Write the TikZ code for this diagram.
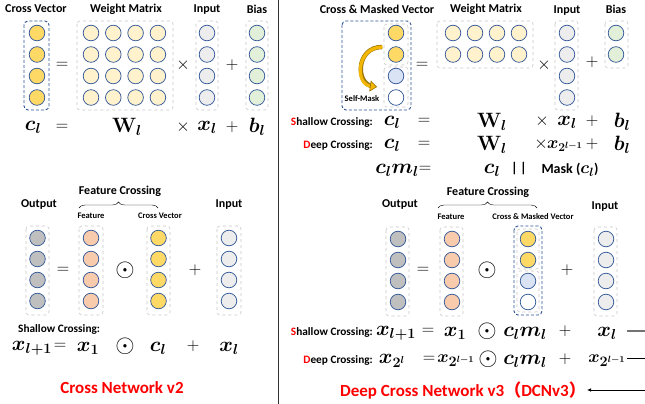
\documentclass[tikz,border=0pt]{standalone}
\usepackage{fontspec}
\setsansfont{Carlito}
\newfontfamily\cjk{Noto Sans CJK SC}
\usepackage{amsmath}
\usepackage{bm}
\usetikzlibrary{decorations.pathreplacing}
\usetikzlibrary{arrows.meta}

\definecolor{cellblue}{HTML}{2F5597}
\definecolor{crossyel}{HTML}{FFD966}
\definecolor{wyel}{HTML}{FFF2CC}
\definecolor{ingray}{HTML}{EDEDED}
\definecolor{biasgreen}{HTML}{E2F0D9}
\definecolor{outgray}{HTML}{BFBFBF}
\definecolor{featpeach}{HTML}{F8CBAD}
\definecolor{maskblue}{HTML}{DAE3F3}
\definecolor{boxgray}{HTML}{C9C9C9}
\definecolor{arrgold}{HTML}{F2B705}
\definecolor{golddark}{HTML}{9C7400}

\begin{document}
\begin{tikzpicture}[x=1pt,y=-1pt,
	cell/.style={draw=cellblue,line width=0.7pt},
	gbox/.style={draw=boxgray,dashed,line width=0.6pt,rounded corners=3pt},
	bbox/.style={draw=cellblue,densely dashed,line width=0.9pt,rounded corners=4pt},
	lab/.style={font=\sffamily\bfseries\fontsize{12}{14}\selectfont,inner sep=1pt},
	crosslab/.style={font=\sffamily\bfseries\fontsize{11.3}{13}\selectfont,inner sep=1pt},
	smalllab/.style={font=\sffamily\bfseries\fontsize{8.5}{10}\selectfont,inner sep=1pt},
	masklab/.style={font=\sffamily\bfseries\fontsize{14}{16}\selectfont,inner sep=1pt},
	eq/.style={font=\fontsize{20}{22}\selectfont\boldmath,inner sep=1pt},
	opsym/.style={font=\fontsize{18}{20}\selectfont,inner sep=0pt},
	odotop/.style={font=\fontsize{30}{32}\selectfont,inner sep=0pt},
	bigtitle/.style={font=\sffamily\bfseries\fontsize{17}{20}\selectfont,text=red,inner sep=1pt}]
\path[use as bounding box,fill=white] (0,0) rectangle (645,404);
\draw[line width=1pt,black!80] (278,0) -- (278,404);

%%% Cross Network v2, top
\node[lab] (cvlab) at (36,9) {Cross Vector};
\node[lab] (wmlab) at (126,9) {Weight Matrix};
\node[lab] (inlab) at (207,10) {Input};
\node[lab] (bilab) at (257,9) {Bias};
\draw[bbox] (24,21) rectangle (49,110);
\draw[gbox] (77,21) rectangle (173,110);
\draw[gbox] (196,21) rectangle (218,110);
\draw[gbox] (246,21) rectangle (268,110);
\foreach \i in {0,...,3} {
	\draw[cell,fill=crossyel] (37,33+21.5*\i) circle (7.8pt);
	\draw[cell,fill=ingray] (207,33+21.5*\i) circle (7.8pt);
	\draw[cell,fill=biasgreen] (257,33+21.5*\i) circle (7.8pt);
	\foreach \j in {0,...,3}
		\draw[cell,fill=wyel] (91+22.3*\j,33+21.5*\i) circle (7.8pt);
}
\node[opsym] (eqA) at (62,65) {$=$};
\node[opsym] (timesA) at (183,65) {$\times$};
\node[opsym] (plusA) at (232,65) {$+$};
\node[eq] (clA) at (33,127) {$c_l$};
\node[opsym] (eqB) at (62,127) {$=$};
\node[eq] (wlA) at (127,127) {$\mathbf{W}_l$};
\node[opsym] (timesB) at (183,127) {$\times$};
\node[eq] (xlA) at (207,127) {$x_l$};
\node[opsym] (plusB) at (232,127) {$+$};
\node[eq] (blA) at (257,127) {$b_l$};

%%% Cross Network v2, bottom
\node[lab] (fclabA) at (120,191) {Feature Crossing};
\draw[decorate,decoration={brace,amplitude=6pt}] (79,208) -- (158,208);
\node[lab] (outlabA) at (39,205) {Output};
\node[smalllab] (featlabA) at (91,216) {Feature};
\node[smalllab] (cvlabB) at (160,216) {Cross Vector};
\node[lab] (inlabB) at (229,205) {Input};
\draw[gbox] (26,226) rectangle (49,315);
\draw[gbox] (79,226) rectangle (103,315);
\draw[gbox] (147,226) rectangle (170,315);
\draw[gbox] (217,226) rectangle (241,315);
\foreach \i in {0,...,3} {
	\draw[cell,fill=outgray] (37.5,238+21*\i) circle (7.8pt);
	\draw[cell,fill=featpeach] (91,238+21*\i) circle (7.8pt);
	\draw[cell,fill=crossyel] (158.5,238+21*\i) circle (7.8pt);
	\draw[cell,fill=ingray] (229,238+21*\i) circle (7.8pt);
}
\node[opsym] (eqC) at (63,270) {$=$};
\node[odotop] (odotA) at (125,270) {$\odot$};
\node[opsym] (plusC) at (195,270) {$+$};
\node[crosslab,anchor=west] (shlabA) at (17,329) {Shallow Crossing:};
\node[eq] (xnA) at (32,348) {$x_{l+1}$};
\node[opsym] (eqD) at (60,346) {$=$};
\node[eq] (x1A) at (88,348) {$x_1$};
\node[odotop] (odotB) at (125,346) {$\odot$};
\node[eq] (clB) at (158,348) {$c_l$};
\node[opsym] (plusD) at (193,346) {$+$};
\node[eq] (xlB) at (229,348) {$x_l$};
\node[bigtitle] (cnv2) at (122,388) {Cross Network v2};

%%% DCNv3, top
\node[lab] (cmlab) at (377,9) {Cross \& Masked Vector};
\node[lab] (wmlabB) at (486,9) {Weight Matrix};
\node[lab] (inlabC) at (567,11) {Input};
\node[lab] (bilabB) at (616,9) {Bias};
\draw[bbox] (342,21) rectangle (411,110);
\draw[gbox] (384,24) rectangle (408,65);
\draw[gbox] (384,67) rectangle (408,107);
\foreach \c [count=\i from 0] in {crossyel,crossyel,maskblue,white}
	\draw[cell,fill=\c] (396,33+21.5*\i) circle (7.8pt);
% self-mask arrow: dark rim, then gold body
\draw[line width=4.4pt,draw=golddark,shorten >=4pt] (382,47) .. controls (356,47) and (355,84) .. (377,87);
\draw[line width=3.2pt,draw=arrgold,-{Triangle[length=7pt,width=11pt,fill=arrgold,color=golddark,line width=0.6pt]}]
	(382.5,47) .. controls (356,47) and (355,84) .. (377,87);
\node[smalllab] (smlab) at (362,99) {Self-Mask};
\node[opsym] (eqE) at (422,65) {$=$};
\draw[gbox] (437,21) rectangle (533,68);
\draw[gbox] (555,21) rectangle (578,110);
\draw[gbox] (605,21) rectangle (628,68);
\foreach \i in {0,1} {
	\draw[cell,fill=biasgreen] (616,33+21.5*\i) circle (7.8pt);
	\foreach \j in {0,...,3}
		\draw[cell,fill=wyel] (453+22*\j,33+21.5*\i) circle (7.8pt);
}
\foreach \i in {0,...,3}
	\draw[cell,fill=ingray] (567,33+21.5*\i) circle (7.8pt);
\node[opsym] (timesC) at (544,65) {$\times$};
\node[opsym] (plusE) at (592,62) {$+$};

% formulas
\node[crosslab,anchor=east] (shlabB) at (374,122) {\textcolor{red}{S}hallow Crossing:};
\node[eq] (clC) at (392,122) {$c_l$};
\node[opsym] (eqF) at (424,121) {$=$};
\node[eq] (wlB) at (492,122) {$\mathbf{W}_l$};
\node[opsym] (timesD) at (542,121) {$\times$};
\node[eq] (xlC) at (567,122) {$x_l$};
\node[opsym] (plusF) at (592,121) {$+$};
\node[eq] (blB) at (622,122) {$b_l$};
\node[crosslab,anchor=east] (dplabA) at (374,145) {\textcolor{red}{D}eep Crossing:};
\node[eq] (clD) at (392,145) {$c_l$};
\node[opsym] (eqG) at (424,144) {$=$};
\node[eq] (wlC) at (492,145) {$\mathbf{W}_l$};
\node[opsym] (timesE) at (541,144) {$\times$};
\node[eq,font=\fontsize{18}{20}\selectfont\boldmath] (xpA) at (565,146) {$x_{2^{l-1}}$};
\node[opsym] (plusG) at (592,144) {$+$};
\node[eq] (blC) at (622,145) {$b_l$};
\node[eq] (cmA) at (397,170) {$c_lm_l$};
\node[opsym] (eqH) at (425,169) {$=$};
\node[eq] (clE) at (492,170) {$c_l$};
\node[masklab] (barA) at (519,169) {\textbar\,\textbar};
\node[masklab] (maskA) at (570,170) {Mask ({\fontsize{18}{20}\selectfont$\bm{c}_{\bm{l}}$})};

%%% DCNv3, bottom
\node[lab] (fclabB) at (488,192) {Feature Crossing};
\draw[decorate,decoration={brace,amplitude=6pt}] (438,208) -- (537,208);
\node[lab] (outlabB) at (400,205) {Output};
\node[smalllab] (featlabB) at (451,217) {Feature};
\node[smalllab] (cmlabB) at (533,217) {Cross \& Masked Vector};
\node[lab] (inlabD) at (605,207) {Input};
\draw[gbox] (386,227) rectangle (409,316);
\draw[gbox] (440,227) rectangle (463,316);
\draw[bbox] (514,226) rectangle (542,315);
\draw[gbox] (517,229) rectangle (539,269);
\draw[gbox] (517,271) rectangle (539,312);
\draw[gbox] (594,227) rectangle (617,316);
\foreach \c [count=\i from 0] in {crossyel,crossyel,maskblue,white} {
	\draw[cell,fill=outgray] (398,239+21*\i) circle (7.8pt);
	\draw[cell,fill=featpeach] (452,239+21*\i) circle (7.8pt);
	\draw[cell,fill=\c] (528,239+21*\i) circle (7.8pt);
	\draw[cell,fill=ingray] (606,239+21*\i) circle (7.8pt);
}
\node[opsym] (eqI) at (423,270) {$=$};
\node[odotop] (odotC) at (487,270) {$\odot$};
\node[opsym] (plusH) at (567,270) {$+$};

% formulas
\node[crosslab,anchor=east] (shlabC) at (374,332) {\textcolor{red}{S}hallow Crossing:};
\node[eq] (xnB) at (396,333) {$x_{l+1}$};
\node[opsym] (eqJ) at (428,331) {$=$};
\node[eq] (x1B) at (455,333) {$x_1$};
\node[odotop] (odotD) at (487,331) {$\odot$};
\node[eq] (cmB) at (525,333) {$c_lm_l$};
\node[opsym] (plusI) at (565,331) {$+$};
\node[eq] (xlD) at (607,333) {$x_l$};
\node[crosslab,anchor=east] (dplabB) at (374,360) {\textcolor{red}{D}eep Crossing:};
\node[eq] (xpB) at (392,361) {$x_{2^l}$};
\node[opsym] (eqK) at (429,359) {$=$};
\node[eq,font=\fontsize{19}{21}\selectfont\boldmath] (xpC) at (456,361) {$x_{2^{l-1}}$};
\node[odotop] (odotE) at (488,359) {$\odot$};
\node[eq] (cmC) at (525,361) {$c_lm_l$};
\node[opsym] (plusJ) at (565,359) {$+$};
\node[eq,font=\fontsize{19}{21}\selectfont\boldmath] (xpD) at (607,361) {$x_{2^{l-1}}$};
\node[bigtitle] (dcnv3) at (463,390) {Deep Cross Network v3{\cjk\bfseries （}DCNv3{\cjk\bfseries ）}};

% lines off to the right
\coordinate (endA) at (645,331);
\coordinate (endB) at (645,358);
\coordinate (endC) at (645,390);
\draw[line width=1.3pt,black!55] ([xshift=9pt]xlD.east |- endA) -- (endA);
\draw[line width=0.6pt] (xpD.east |- endB) -- (endB);
\draw[line width=0.6pt,-{Latex[length=4pt,width=3.5pt]}] (endC) -- (dcnv3.east |- endC);
\end{tikzpicture}
\end{document}
